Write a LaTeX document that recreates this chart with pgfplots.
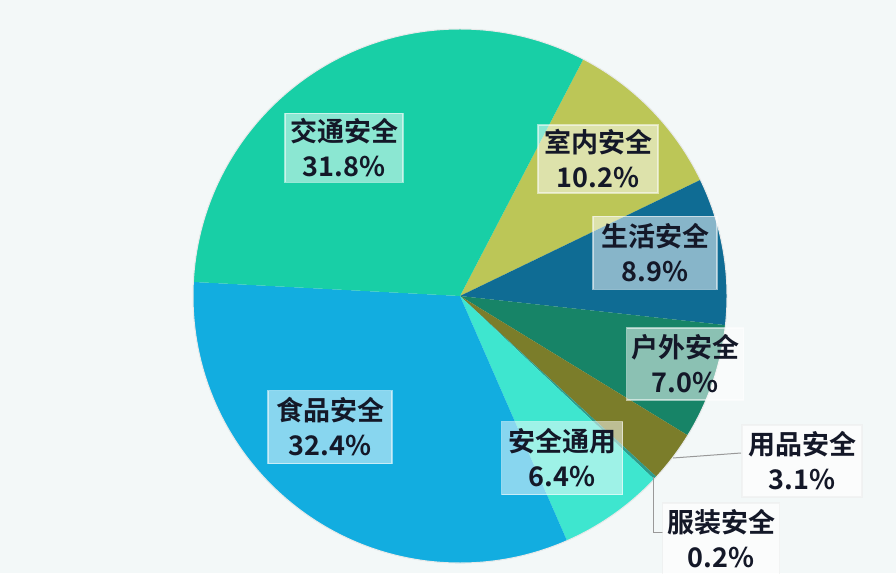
\documentclass[border=0pt]{standalone}
\usepackage{fontspec}
\setmainfont{Noto Sans CJK SC}[BoldFont={Noto Sans CJK SC Bold}]
\usepackage{pgfplots}
\pgfplotsset{compat=1.18}
\definecolor{bg}{HTML}{F3F8F8}
\definecolor{cSN}{HTML}{BCC657}
\definecolor{cSH}{HTML}{0F6C94}
\definecolor{cHW}{HTML}{178467}
\definecolor{cYP}{HTML}{7B7D2A}
\definecolor{cFZ}{HTML}{2E9C8C}
\definecolor{cTY}{HTML}{3EE6CF}
\definecolor{cSP}{HTML}{12ADE0}
\definecolor{cJT}{HTML}{18CFA6}
\definecolor{txt}{HTML}{141828}
% shares (percent), clockwise from 室内安全
\def\vSN{10.2}\def\vSH{8.9}\def\vHW{7.0}\def\vYP{3.1}
\def\vFZ{0.2}\def\vTY{6.4}\def\vSP{32.4}\def\vJT{31.8}
\begin{document}
\begin{tikzpicture}
\pgfmathsetmacro\aO{62.5}
\pgfmathsetmacro\aA{\aO-3.6*\vSN}
\pgfmathsetmacro\aB{\aA-3.6*\vSH}
\pgfmathsetmacro\aC{\aB-3.6*\vHW}
\pgfmathsetmacro\aD{\aC-3.6*\vYP}
\pgfmathsetmacro\aE{\aD-3.6*\vFZ}
\pgfmathsetmacro\aF{\aE-3.6*\vTY}
\pgfmathsetmacro\aG{\aF-3.6*\vSP}
\pgfmathsetmacro\aH{\aG-3.6*\vJT}
\begin{axis}[x=1pt,y=1pt,xmin=0,xmax=896,ymin=0,ymax=573,
  hide axis,scale only axis,clip=false]
\fill[bg] (axis cs:0,0) rectangle (axis cs:896,573);
\def\R{267pt}
\fill[cSN] (axis cs:460,277) -- ++(\aO:\R) arc[start angle=\aO,end angle=\aA,radius=\R] -- cycle;
\fill[cSH] (axis cs:460,277) -- ++(\aA:\R) arc[start angle=\aA,end angle=\aB,radius=\R] -- cycle;
\fill[cHW] (axis cs:460,277) -- ++(\aB:\R) arc[start angle=\aB,end angle=\aC,radius=\R] -- cycle;
\fill[cYP] (axis cs:460,277) -- ++(\aC:\R) arc[start angle=\aC,end angle=\aD,radius=\R] -- cycle;
\fill[cFZ] (axis cs:460,277) -- ++(\aD:\R) arc[start angle=\aD,end angle=\aE,radius=\R] -- cycle;
\fill[cTY] (axis cs:460,277) -- ++(\aE:\R) arc[start angle=\aE,end angle=\aF,radius=\R] -- cycle;
\fill[cSP] (axis cs:460,277) -- ++(\aF:\R) arc[start angle=\aF,end angle=\aG,radius=\R] -- cycle;
\fill[cJT] (axis cs:460,277) -- ++(\aG:\R) arc[start angle=\aG,end angle=\aH,radius=\R] -- cycle;
\draw[color=white!75!gray!60!bg,line width=1pt] (axis cs:460,277) circle[radius=\R];
% leader lines
\draw[gray!80,line width=1pt] (axis cs:673,115) -- (axis cs:741,120);
\draw[gray!80,line width=1pt] (axis cs:653,96) -- (axis cs:653,41) -- (axis cs:663,41);
% labels
\tikzset{lab/.style={draw=white,draw opacity=0.55,line width=1.5pt,fill=white,fill opacity=0.5,
  text opacity=1,text=txt,align=center,inner sep=0pt,
  font=\bfseries\fontsize{27}{35}\selectfont}}
\node[lab,minimum width=118pt,minimum height=69pt] at (axis cs:344,425) {交通安全\\31.8\%};
\node[lab,minimum width=120pt,minimum height=68pt] at (axis cs:598,414) {室内安全\\10.2\%};
\node[lab,minimum width=124pt,minimum height=73pt] at (axis cs:655,320) {生活安全\\8.9\%};
\node[lab,minimum width=117pt,minimum height=72pt] at (axis cs:685,209) {户外安全\\7.0\%};
\node[lab,minimum width=121pt,minimum height=73pt] at (axis cs:562,115) {安全通用\\6.4\%};
\node[lab,draw=gray!15,fill opacity=0.7,minimum width=120pt,minimum height=72pt] at (axis cs:802,112) {用品安全\\3.1\%};
\node[lab,draw=gray!15,fill opacity=0.7,minimum width=117pt,minimum height=72pt] at (axis cs:721,34) {服装安全\\0.2\%};
\node[lab,minimum width=124pt,minimum height=73pt] at (axis cs:330,146) {食品安全\\32.4\%};
\end{axis}
\pgfresetboundingbox
\useasboundingbox (current axis.south west) rectangle (current axis.north east);
\end{tikzpicture}
\end{document}
